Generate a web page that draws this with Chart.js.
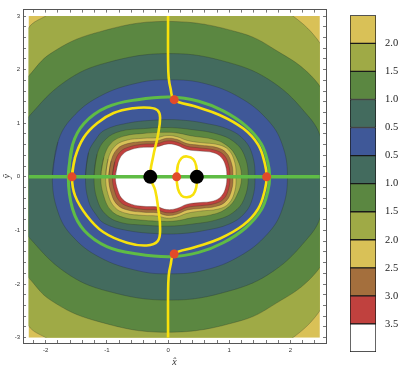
<!DOCTYPE html>
<html>
<head>
<meta charset="utf-8">
<script src="https://cdn.jsdelivr.net/npm/chart.js@4.4.0/dist/chart.umd.min.js"></script>
<style>
  html, body { margin: 0; padding: 0; background: #ffffff; }
  #wrap { position: relative; width: 415px; height: 374px; overflow: hidden; }
  #main { position: absolute; left: 0; top: 0; }
  #bar { position: absolute; left: 340px; top: 0; }
</style>
</head>
<body>
<div id="wrap">
  <canvas id="main" width="340" height="374"></canvas>
  <canvas id="bar" width="75" height="374"></canvas>
</div>
<script>
// ---------------- data ----------------
const plotRegion = { xMin: -2.28, xMax: 2.48, yMin: -3.0, yMax: 3.0 };
const xAxisRange = [-2.37, 2.58];
const yAxisRange = [-3.10, 3.12];
const xMajorTicks = [-2, -1, 0, 1, 2];
const yMajorTicks = [-3, -2, -1, 0, 1, 2, 3];

// contour boundaries: upper halves (left -> right); lower halves mirror them in y
const contour20Outer = [[-3.15,0],[-2.9,1.6],[-2.28,2.78],[-2.0,3.0],[-1.2,3.5],[0.05,3.85],[1.3,3.5],[2.04,3.0],[2.48,2.5],[3.0,1.5],[3.25,0]];
const contour15Outer = [[-3.15,0],[-2.9,1.1],[-2.28,1.88],[-1.92,2.3],[-1.2,2.68],[-0.03,2.9],[1.2,2.68],[1.85,2.3],[2.28,1.95],[2.6,1.5],[2.95,0.9],[3.1,0]];
const contour10Outer = [[-2.6,0],[-2.45,0.82],[-2.28,1.12],[-1.68,1.78],[-1.0,2.13],[0.03,2.3],[1.0,2.13],[1.72,1.76],[2.3,1.12],[2.5,0.72],[2.64,0]];
const contour05Outer = [[-1.89,0],[-1.8,0.65],[-1.57,1.1],[-1.12,1.5],[-0.5,1.75],[0.03,1.81],[0.6,1.74],[1.17,1.48],[1.62,1.07],[1.86,0.62],[1.95,0]];
const contour05Inner = [[-1.35,0],[-1.3,0.45],[-1.18,0.7],[-1.04,0.87],[-0.67,1.0],[-0.18,1.06],[0.2,1.06],[0.6,1.0],[1.0,0.88],[1.25,0.68],[1.38,0.4],[1.42,0]];
const contour10Inner = [[-1.21,0],[-1.16,0.42],[-1.02,0.7],[-0.78,0.85],[-0.4,0.9],[0,0.92],[0.4,0.88],[0.8,0.8],[1.07,0.66],[1.24,0.42],[1.31,0]];
const contour15Inner = [[-1.1,0],[-1.05,0.36],[-0.93,0.63],[-0.72,0.76],[-0.4,0.81],[-0.1,0.83],[0.14,0.82],[0.4,0.76],[0.7,0.71],[0.93,0.61],[1.1,0.4],[1.2,0]];
const contour20Inner = [[-1.02,0],[-0.98,0.33],[-0.87,0.57],[-0.69,0.68],[-0.4,0.72],[-0.18,0.73],[-0.02,0.77],[0.14,0.75],[0.31,0.68],[0.52,0.64],[0.82,0.6],[0.99,0.5],[1.09,0.27],[1.11,0]];
const contour25 = [[-0.97,0],[-0.93,0.3],[-0.83,0.52],[-0.66,0.62],[-0.4,0.66],[-0.18,0.67],[-0.02,0.72],[0.14,0.7],[0.31,0.62],[0.52,0.59],[0.79,0.55],[0.95,0.45],[1.04,0.24],[1.06,0]];
const contour30 = [[-0.91,0],[-0.87,0.28],[-0.78,0.47],[-0.63,0.56],[-0.4,0.61],[-0.18,0.62],[-0.02,0.67],[0.14,0.65],[0.31,0.57],[0.52,0.54],[0.76,0.5],[0.91,0.41],[0.99,0.22],[1.01,0]];
const contour35 = [[-0.86,0],[-0.82,0.25],[-0.74,0.42],[-0.6,0.51],[-0.4,0.55],[-0.18,0.56],[-0.02,0.61],[0.14,0.59],[0.31,0.51],[0.52,0.48],[0.74,0.45],[0.87,0.36],[0.94,0.2],[0.96,0]];

// zero contour (green ring), upper half
const zeroRingUpper = [[-1.63,0],[-1.56,0.6],[-1.37,1.0],[-1.0,1.3],[-0.5,1.44],[0.05,1.49],[0.5,1.41],[0.9,1.23],[1.27,0.95],[1.52,0.62],[1.63,0.27],[1.66,0]];
// green axis line
const zeroAxisLine = [[-2.28,0],[2.48,0]];

// yellow curves
const yellowOuter = [[0,3.0],[0,2.2],[0.01,1.85],[0.04,1.65],[0.1,1.44],[0.42,1.32],[0.85,1.15],[1.23,0.9],[1.47,0.6],[1.58,0.25],[1.61,0],[1.58,-0.25],[1.47,-0.6],[1.23,-0.9],[0.85,-1.15],[0.42,-1.32],[0.1,-1.44],[0.04,-1.65],[0.01,-1.85],[0,-2.2],[0,-3.0]];
const yellowLeftLoop = [[-1.57,0],[-1.52,0.36],[-1.38,0.73],[-1.16,1.0],[-0.89,1.19],[-0.57,1.28],[-0.3,1.29],[-0.17,1.24],[-0.13,1.1],[-0.17,0.75],[-0.24,0.4],[-0.29,0],[-0.21,-0.25],[-0.16,-0.6],[-0.13,-0.97],[-0.17,-1.2],[-0.35,-1.28],[-0.67,-1.23],[-1.06,-1.03],[-1.33,-0.72],[-1.52,-0.35]];
const yellowSmallLoop = [[0.14,0],[0.16,0.22],[0.22,0.35],[0.31,0.38],[0.41,0.33],[0.46,0.2],[0.47,0],[0.46,-0.2],[0.41,-0.33],[0.31,-0.38],[0.22,-0.35],[0.16,-0.22]];

// special points
const saddlePoints = [[-1.57,0],[1.61,0],[0.1,1.44],[0.1,-1.44],[0.14,0]];
const sourcePoints = [[-0.29,0],[0.47,0]];

// colour bar
const colorbarLabels = ['2.0','1.5','1.0','0.5','0.5','1.0','1.5','2.0','2.5','3.0','3.5'];

// ---------------- styles ----------------
const C = {
  gold: '#D9C157', olive: '#9FAA46', green: '#5B8741', teal: '#436B5E',
  blue: '#3F5898', brown: '#A46F3D', red: '#C0413E', white: '#FFFFFF',
  line: '#5FBC45', yellow: '#F7E10C', dot: '#E24A2A', black: '#000000'
};
const colorbarColors = [C.gold, C.olive, C.green, C.teal, C.blue, C.teal, C.green, C.olive, C.gold, C.brown, C.red, C.white];

// ---------------- helpers ----------------
const toXY = pts => pts.map(([x, y]) => ({ x, y }));
function mirroredClosed(upper) {
  const lower = upper.slice(1, -1).reverse().map(([x, y]) => [x, -y]);
  const pts = upper.concat(lower);
  pts.push(pts[0], pts[1]);
  return toXY(pts);
}
function closedLoop(pts) { return toXY(pts.concat([pts[0], pts[1]])); }
function tickList(lo, hi, step) {
  const out = [];
  for (let v = lo; v <= hi + 1e-9; v += step) out.push(Math.round(v * 1000) / 1000);
  return out;
}

// ---------------- datasets ----------------
const drawList = [];
drawList.push({
  data: toXY([[plotRegion.xMin, plotRegion.yMin], [plotRegion.xMin, plotRegion.yMax], [plotRegion.xMax, plotRegion.yMax], [plotRegion.xMax, plotRegion.yMin], [plotRegion.xMin, plotRegion.yMin]]),
  backgroundColor: C.gold, borderWidth: 0, fill: 'shape', tension: 0, pointRadius: 0
});
const bandLevels = [contour20Outer, contour15Outer, contour10Outer, contour05Outer, contour05Inner, contour10Inner, contour15Inner, contour20Inner, contour25, contour30, contour35];
const bandFill = [C.olive, C.green, C.teal, C.blue, C.teal, C.green, C.olive, C.gold, C.brown, C.red, C.white];
bandLevels.forEach((lvl, i) => {
  drawList.push({
    data: mirroredClosed(lvl), backgroundColor: bandFill[i],
    borderColor: 'rgba(35,45,35,0.35)', borderWidth: 0.8,
    fill: 'shape', tension: 0.4, pointRadius: 0
  });
});
drawList.push({ data: toXY(zeroAxisLine), borderColor: C.line, borderWidth: 3.5, fill: false, tension: 0, pointRadius: 0 });
drawList.push({ data: mirroredClosed(zeroRingUpper), borderColor: C.line, borderWidth: 3, fill: false, tension: 0.4, pointRadius: 0 });
drawList.push({ data: toXY(yellowOuter), borderColor: C.yellow, borderWidth: 2.6, fill: false, tension: 0.4, pointRadius: 0 });
drawList.push({ data: closedLoop(yellowLeftLoop), borderColor: C.yellow, borderWidth: 2.6, fill: false, tension: 0.4, pointRadius: 0 });
drawList.push({ data: closedLoop(yellowSmallLoop), borderColor: C.yellow, borderWidth: 2.6, fill: false, tension: 0.4, pointRadius: 0 });
drawList.push({ data: toXY(saddlePoints), showLine: false, pointRadius: 4.5, pointBackgroundColor: C.dot, pointBorderWidth: 0, pointHoverRadius: 4.5 });
drawList.push({ data: toXY(sourcePoints), showLine: false, pointRadius: 7, pointBackgroundColor: C.black, pointBorderWidth: 0, pointHoverRadius: 7 });
drawList.forEach((d, i) => { d.order = drawList.length - i; });

const regionClip = {
  id: 'regionClip',
  beforeDatasetsDraw(chart) {
    const { ctx, scales: { x, y } } = chart;
    const l = x.getPixelForValue(plotRegion.xMin), r = x.getPixelForValue(plotRegion.xMax);
    const t = y.getPixelForValue(plotRegion.yMax), b = y.getPixelForValue(plotRegion.yMin);
    ctx.save(); ctx.beginPath(); ctx.rect(l, t, r - l, b - t); ctx.clip();
  },
  afterDatasetsDraw(chart) { chart.ctx.restore(); }
};

const tickFont = { family: 'Liberation Sans', size: 6 };
const isMajor = (v, list) => list.some(m => Math.abs(m - v) < 1e-6);
function axis(pos, range, minor, majors, showLabels, size, extra) {
  return Object.assign({
    type: 'linear', position: pos, min: range[0], max: range[1],
    afterBuildTicks: s => { s.ticks = minor.map(v => ({ value: v })); },
    afterFit: s => { if (pos === 'left' || pos === 'right') s.width = size; else s.height = size; },
    grid: { drawOnChartArea: false, drawTicks: true, tickLength: -3, tickColor: '#555', tickWidth: 0.8 },
    border: { display: true, color: '#555', width: 1 },
    ticks: {
      autoSkip: false, maxRotation: 0, font: tickFont, color: '#333',
      padding: (pos === 'bottom') ? 7 : 6,
      callback: v => (showLabels && isMajor(v, majors)) ? String(Math.round(v)) : ''
    }
  }, extra || {});
}
const xMinor = tickList(-2.2, 2.4, 0.2);
const yMinor = tickList(-3.0, 3.0, 0.2);

new Chart(document.getElementById('main'), {
  type: 'line',
  data: { datasets: drawList },
  options: {
    responsive: false, animation: false, events: [],
    layout: { padding: 0 },
    plugins: { legend: { display: false }, tooltip: { enabled: false } },
    scales: {
      x: axis('bottom', xAxisRange, xMinor, xMajorTicks, true, 31, {
        title: { display: true, text: 'x\u0302', font: { family: 'Liberation Serif', style: 'italic', size: 10 }, color: '#333', padding: { top: 0, bottom: 6 } }
      }),
      x2: axis('top', xAxisRange, xMinor, xMajorTicks, false, 7),
      y: axis('left', yAxisRange, yMinor, yMajorTicks, true, 23, {
        title: { display: true, text: 'y\u0302', font: { family: 'Liberation Serif', style: 'italic', size: 10 }, color: '#333', padding: { top: 1, bottom: 0 } }
      }),
      y2: axis('right', yAxisRange, yMinor, yMajorTicks, false, 14)
    }
  },
  plugins: [regionClip]
});

// ---------------- colour bar ----------------
const barDatasets = colorbarColors.slice().reverse().map(col => ({
  data: [1], backgroundColor: col, borderColor: '#1a1a1a', borderWidth: 1, borderSkipped: false,
  categoryPercentage: 1, barPercentage: 1
}));
new Chart(document.getElementById('bar'), {
  type: 'bar',
  data: { labels: [''], datasets: barDatasets },
  options: {
    responsive: false, animation: false, events: [],
    layout: { padding: { left: 10, top: 15, bottom: 22, right: 0 } },
    plugins: { legend: { display: false }, tooltip: { enabled: false } },
    scales: {
      x: { stacked: true, display: false },
      y: {
        stacked: true, position: 'right', min: 0, max: colorbarLabels.length + 1,
        afterBuildTicks: s => { s.ticks = colorbarLabels.map((_, i) => ({ value: i + 1 })); },
        afterFit: s => { s.width = 39; },
        grid: { display: false, drawTicks: false },
        border: { display: false },
        ticks: {
          padding: 9, color: '#222', font: { family: 'Liberation Serif', size: 10.5 },
          callback: v => colorbarLabels[colorbarLabels.length - v]
        }
      }
    }
  }
});
</script>
</body>
</html>
